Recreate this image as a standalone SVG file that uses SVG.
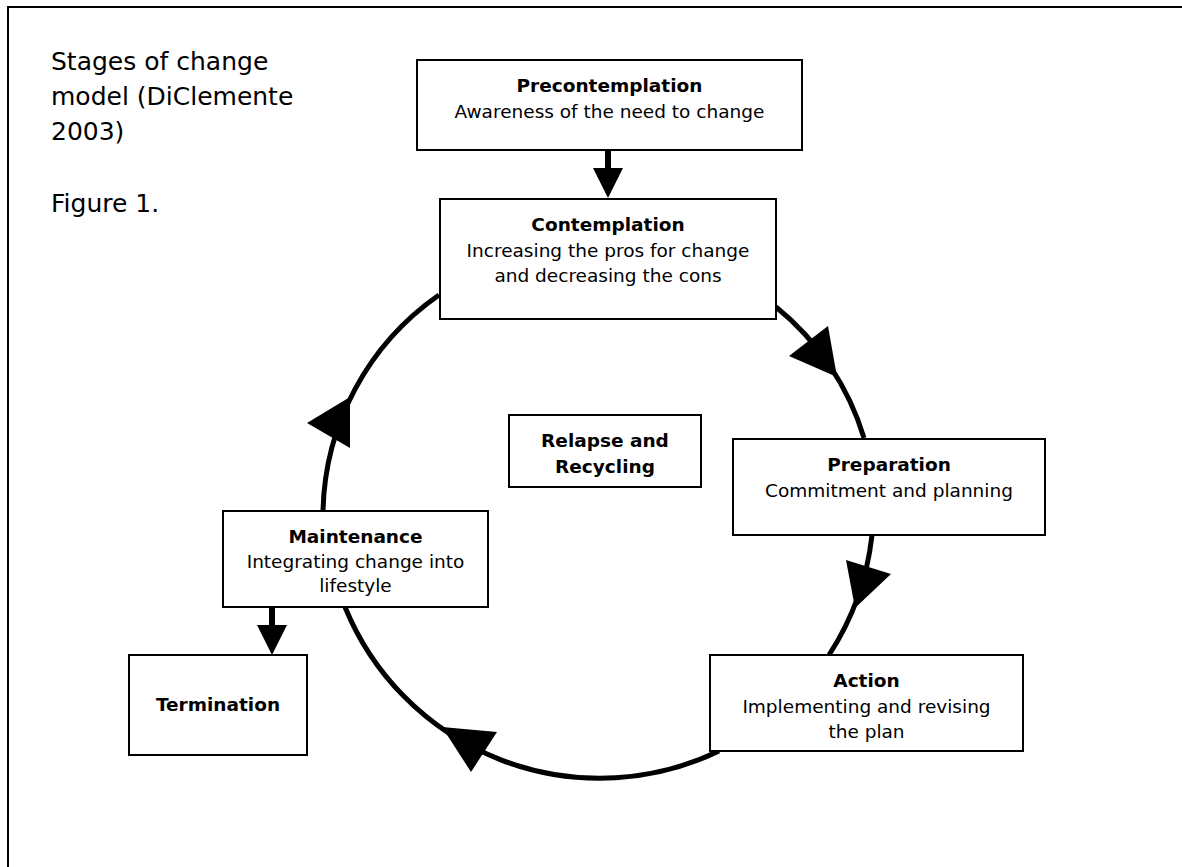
<svg xmlns="http://www.w3.org/2000/svg" width="1182" height="867" viewBox="0 0 1182 867">
<style>
.box{fill:#fff;stroke:#000;stroke-width:2}
.t{font-family:"DejaVu Sans",Verdana,sans-serif;font-size:18.5px;fill:#000;text-anchor:middle}
.b{font-weight:bold}
.title{font-family:"DejaVu Sans",Verdana,sans-serif;font-size:25px;fill:#000}
.arc{fill:none;stroke:#000;stroke-width:5}
.shaft{stroke:#000;stroke-width:6}
.head{fill:#000}
</style>
<rect width="1182" height="867" fill="#fff"/>
<path d="M8,867 V7 H1182" fill="none" stroke="#000" stroke-width="2"/>
<g id="title">
<text class="title" x="51" y="70">Stages of change</text>
<text class="title" x="51" y="105">model (DiClemente</text>
<text class="title" x="51" y="140">2003)</text>
<text class="title" x="51" y="212">Figure 1.</text>
</g>
<g id="connectors">
<path class="arc" d="M776,307 A268,268 0 0 1 864,438"/>
<path class="arc" d="M872,535 A275,275 0 0 1 829,655"/>
<path class="arc" d="M719,751 A275,275 0 0 1 345,607"/>
<path class="arc" d="M323,511 A270,270 0 0 1 439,295"/>
<polygon class="head" points="789,356 828,326 837,377"/>
<polygon class="head" points="846,560 891,574 855,608"/>
<polygon class="head" points="497,732 471,772 442,727"/>
<polygon class="head" points="307,423 350,448 350,397"/>
<line class="shaft" x1="608" y1="150" x2="608" y2="169"/>
<polygon class="head" points="593,168 623,168 608,198"/>
<line class="shaft" x1="272" y1="607" x2="272" y2="626"/>
<polygon class="head" points="257,625 287,625 272,655"/>
</g>
<g id="precontemplation">
<rect class="box" x="417" y="60" width="385" height="90"/>
<text class="t b" x="609.5" y="92">Precontemplation</text>
<text class="t" x="609.5" y="118">Awareness of the need to change</text>
</g>
<g id="contemplation">
<rect class="box" x="440" y="199" width="336" height="120"/>
<text class="t b" x="608" y="231">Contemplation</text>
<text class="t" x="608" y="257">Increasing the pros for change</text>
<text class="t" x="608" y="282">and decreasing the cons</text>
</g>
<g id="relapse">
<rect class="box" x="509" y="415" width="192" height="72"/>
<text class="t b" x="605" y="447">Relapse and</text>
<text class="t b" x="605" y="473">Recycling</text>
</g>
<g id="preparation">
<rect class="box" x="733" y="439" width="312" height="96"/>
<text class="t b" x="889" y="471">Preparation</text>
<text class="t" x="889" y="497">Commitment and planning</text>
</g>
<g id="action">
<rect class="box" x="710" y="655" width="313" height="96"/>
<text class="t b" x="866.5" y="687">Action</text>
<text class="t" x="866.5" y="713">Implementing and revising</text>
<text class="t" x="866.5" y="738">the plan</text>
</g>
<g id="maintenance">
<rect class="box" x="223" y="511" width="265" height="96"/>
<text class="t b" x="355.5" y="543">Maintenance</text>
<text class="t" x="355.5" y="568">Integrating change into</text>
<text class="t" x="355.5" y="592">lifestyle</text>
</g>
<g id="termination">
<rect class="box" x="129" y="655" width="178" height="100"/>
<text class="t b" x="218" y="711">Termination</text>
</g>
</svg>
